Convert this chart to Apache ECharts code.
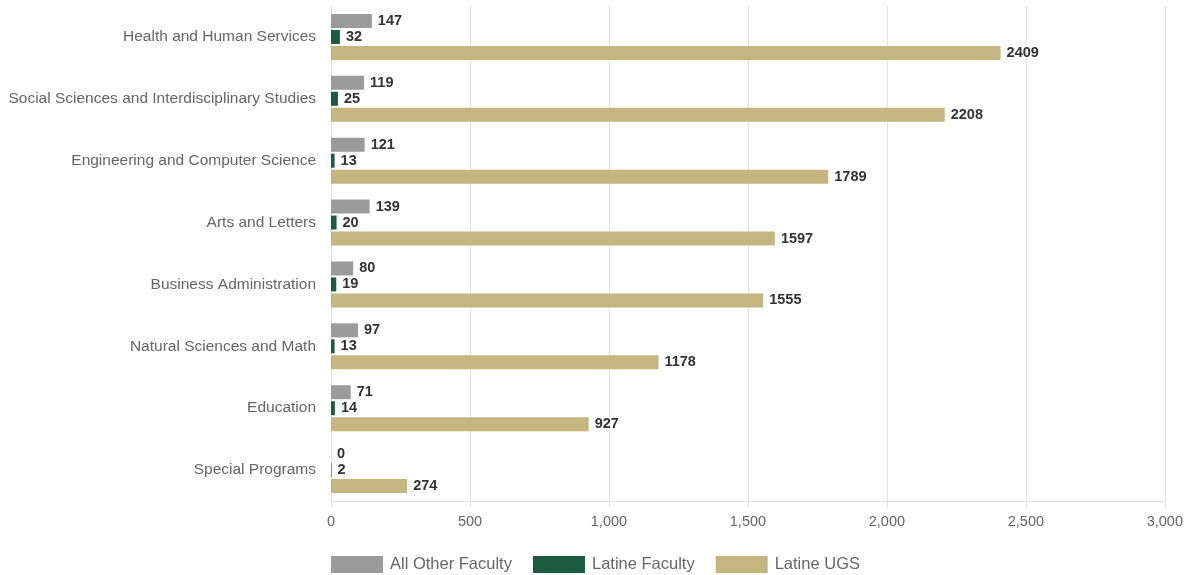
<!DOCTYPE html>
<html>
<head>
<meta charset="utf-8">
<script src="https://cdn.jsdelivr.net/npm/echarts@6/dist/echarts.min.js"></script>
<style>
  html, body { margin: 0; padding: 0; background: #fff; }
  #chart { width: 1186px; height: 575px; }
</style>
</head>
<body>
<div id="chart"></div>
<script>
// Colleges, top to bottom
const colleges = [
  'Health and Human Services',
  'Social Sciences and Interdisciplinary Studies',
  'Engineering and Computer Science',
  'Arts and Letters',
  'Business Administration',
  'Natural Sciences and Math',
  'Education',
  'Special Programs'
];
const allOtherFaculty = [147, 119, 121, 139, 80, 97, 71, 0];
const latineFaculty = [32, 25, 13, 20, 19, 13, 14, 2];
const latineUGS = [2409, 2208, 1789, 1597, 1555, 1178, 927, 274];

const fontFamily = 'Liberation Sans, Arial, Helvetica, sans-serif';

function barSeries(name, data, color) {
  return {
    name: name,
    type: 'bar',
    data: data,
    barWidth: 14,
    barGap: '14%',
    itemStyle: { color: color },
    label: {
      show: true,
      position: 'right',
      distance: 6,
      color: '#333',
      fontWeight: 'bold',
      fontSize: 14.5,
      fontFamily: fontFamily
    }
  };
}

const chart = echarts.init(document.getElementById('chart'), null, { renderer: 'canvas' });
chart.setOption({
  animation: false,
  grid: { left: 331, right: 21, top: 6, bottom: 74, containLabel: false },
  legend: {
    top: 551,
    left: 326,
    itemWidth: 52,
    itemHeight: 17,
    itemGap: 21,
    icon: 'rect',
    textStyle: { color: '#666', fontSize: 16.5, fontFamily: fontFamily, padding: [0, 0, 0, 2] },
    data: ['All Other Faculty', 'Latine Faculty', 'Latine UGS']
  },
  xAxis: {
    type: 'value',
    min: 0,
    max: 3000,
    interval: 500,
    axisLine: { show: true, lineStyle: { color: '#e3e3e3' } },
    axisTick: { show: true, length: 7, lineStyle: { color: '#e3e3e3' } },
    splitLine: { show: true, lineStyle: { color: '#e3e3e3' } },
    axisLabel: {
      color: '#666',
      fontSize: 14.5,
      fontFamily: fontFamily,
      margin: 13,
      formatter: v => v.toLocaleString('en-US')
    }
  },
  yAxis: {
    type: 'category',
    data: colleges,
    inverse: true,
    axisLine: { show: false },
    axisTick: { show: false },
    axisLabel: { color: '#666', fontSize: 15.5, fontFamily: fontFamily, margin: 15 }
  },
  series: [
    barSeries('All Other Faculty', allOtherFaculty, '#9b9b9b'),
    barSeries('Latine Faculty', latineFaculty, '#1b5b40'),
    barSeries('Latine UGS', latineUGS, '#c5b57f')
  ]
});
</script>
</body>
</html>
